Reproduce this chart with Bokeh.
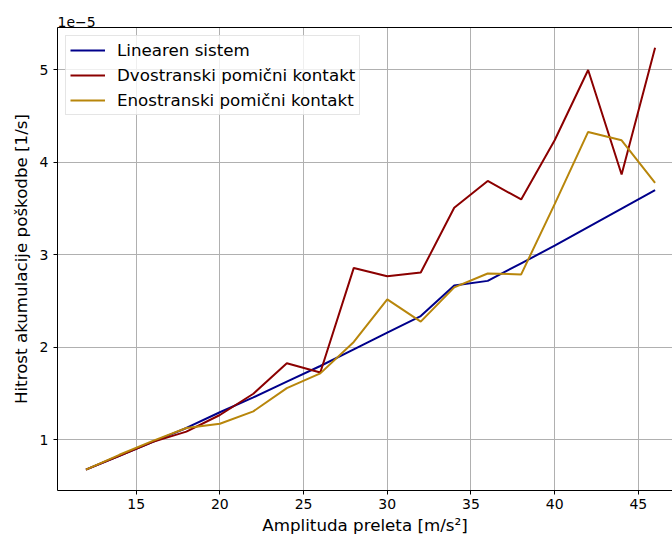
from bokeh.plotting import figure
from bokeh.models import (Range1d, LinearAxis, FixedTicker, Legend, LegendItem,
                          Title, CustomJSTickFormatter)
from bokeh.embed import file_html
from bokeh.resources import INLINE

# Data (y values in 1/s)
amplitude = [12, 14, 16, 18, 20, 22, 24, 26, 28, 30, 32, 34, 36, 38, 40, 42, 44, 46]
linearen = [0.68e-5, 0.83e-5, 0.98e-5, 1.13e-5, 1.30e-5, 1.46e-5, 1.63e-5, 1.80e-5, 1.98e-5,
            2.16e-5, 2.34e-5, 2.67e-5, 2.72e-5, 2.91e-5, 3.10e-5, 3.30e-5, 3.50e-5, 3.70e-5]
dvostranski = [0.68e-5, 0.83e-5, 0.98e-5, 1.09e-5, 1.27e-5, 1.50e-5, 1.83e-5, 1.73e-5, 2.86e-5,
               2.77e-5, 2.81e-5, 3.51e-5, 3.80e-5, 3.60e-5, 4.24e-5, 5.00e-5, 3.87e-5, 5.24e-5]
enostranski = [0.68e-5, 0.84e-5, 0.99e-5, 1.13e-5, 1.175e-5, 1.31e-5, 1.56e-5, 1.72e-5, 2.06e-5,
               2.52e-5, 2.28e-5, 2.65e-5, 2.80e-5, 2.79e-5, 3.55e-5, 4.33e-5, 4.24e-5, 3.78e-5]
series_names = ["Linearen sistem", "Dvostranski pomični kontakt", "Enostranski pomični kontakt"]
series_colors = ["#00008B", "#8B0000", "#B8860B"]
x_ticks = [15, 20, 25, 30, 35, 40, 45]
y_ticks = [1e-5, 2e-5, 3e-5, 4e-5, 5e-5]

FONT = "DejaVu Sans"

p = figure(width=672, height=539, output_backend="svg", toolbar_location=None,
           x_range=Range1d(10.3, 47.04), y_range=Range1d(0.454e-5, 5.459e-5),
           min_border_left=57, min_border_right=0, min_border_top=27, min_border_bottom=49)
p.outline_line_color = None
p.background_fill_color = "white"
p.border_fill_color = "white"

renderers = []
for ys, c in zip([linearen, dvostranski, enostranski], series_colors):
    r = p.line(amplitude, ys, line_color=c, line_width=2)
    renderers.append(r)

# axes
for ax in (p.xaxis[0], p.yaxis[0]):
    ax.axis_line_color = "black"
    ax.axis_line_width = 1
    ax.major_tick_line_color = "black"
    ax.major_tick_out = 4
    ax.major_tick_in = 0
    ax.minor_tick_line_color = None
    ax.major_label_text_font = FONT
    ax.major_label_text_font_size = "14px"
    ax.major_label_text_color = "black"
    ax.axis_label_text_font = FONT
    ax.axis_label_text_font_size = "16.7px"
    ax.axis_label_text_font_style = "normal"
    ax.axis_label_text_color = "black"

p.xaxis.ticker = FixedTicker(ticks=x_ticks)
p.yaxis.ticker = FixedTicker(ticks=y_ticks)
p.yaxis.formatter = CustomJSTickFormatter(code="return (tick*1e5).toFixed(0);")
p.xaxis.axis_label = "Amplituda preleta [m/s²]"
p.yaxis.axis_label = "Hitrost akumulacije poškodbe [1/s]"
p.xaxis.major_label_standoff = 4
p.xaxis.axis_label_standoff = 3
p.yaxis.major_label_standoff = 5
p.yaxis.axis_label_standoff = 6

# top spine
top = LinearAxis(ticker=FixedTicker(ticks=[]), axis_line_color="black", axis_line_width=1,
                 major_tick_line_color=None, minor_tick_line_color=None,
                 major_tick_out=0, major_label_standoff=0,
                 major_label_text_font_size="0px")
p.add_layout(top, "above")

# offset text
p.add_layout(Title(text="1e−5", align="left", text_font=FONT, text_font_size="14px",
                   text_font_style="normal", text_color="black", standoff=2, offset=0),
             "above")

# grid
p.xgrid.ticker = FixedTicker(ticks=x_ticks)
p.ygrid.ticker = FixedTicker(ticks=y_ticks)
for g in (p.xgrid[0], p.ygrid[0]):
    g.grid_line_color = "#b0b0b0"
    g.grid_line_width = 1

legend = Legend(items=[LegendItem(label=n, renderers=[r]) for n, r in zip(series_names, renderers)],
                location="top_left", margin=8, padding=4, spacing=5,
                label_text_font=FONT, label_text_font_size="16.7px", label_text_color="black",
                label_height=20, glyph_height=20, glyph_width=35, label_standoff=12,
                border_line_color="#cccccc", border_line_width=1,
                background_fill_color="white", background_fill_alpha=0.8)
p.add_layout(legend)

open("out.html", "w").write(file_html(p, INLINE))
